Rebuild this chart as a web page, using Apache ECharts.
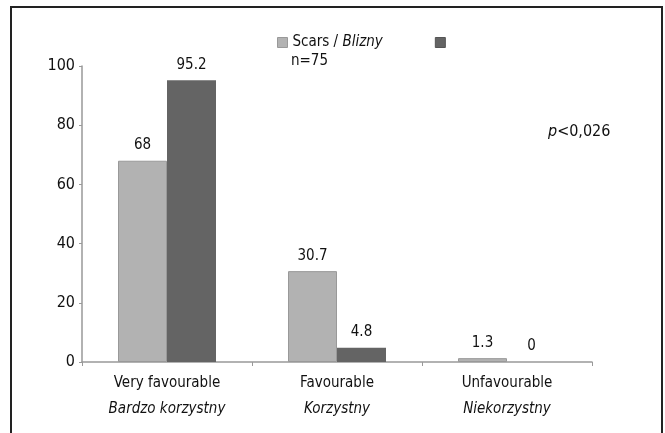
<!DOCTYPE html>
<html><head><meta charset="utf-8">
<script src="https://cdn.jsdelivr.net/npm/echarts@6/dist/echarts.min.js"></script>
<style>html,body{margin:0;padding:0;background:#fff}#c{width:665px;height:433px}</style>
</head><body><div id="c"></div>
<script>
const categoriesEn = ['Very favourable', 'Favourable', 'Unfavourable'];
const categoriesPl = ['Bardzo korzystny', 'Korzystny', 'Niekorzystny'];
const scarsValues = [68, 30.7, 1.3];
const secondValues = [95.2, 4.8, 0];
const yTicks = [0, 20, 40, 60, 80, 100];

const FONT = '"Liberation Sans Narrow", "DejaVu Sans Condensed", sans-serif';
const chart = echarts.init(document.getElementById('c'));
const cats = categoriesEn.map((e, i) => e + '\n' + categoriesPl[i]);

chart.setOption({
  animation: false,
  textStyle: { fontFamily: FONT, color: '#111' },
  grid: { left: 82, right: 73, top: 66, bottom: 71 },
  legend: {
    top: 30, left: 272, itemWidth: 10, itemHeight: 10, itemGap: 52, icon: 'rect',
    textStyle: { fontFamily: FONT, fontSize: 15, color: '#111',
      rich: { i: { fontFamily: FONT, fontStyle: 'italic', fontSize: 15, color: '#111' } } },
    formatter: function (n) { return n === 'Scars' ? 'Scars / {i|Blizny}' : ''; },
    data: [{ name: 'Scars', itemStyle: { color: '#b2b2b2', borderColor: '#999', borderWidth: 1 } },
           { name: ' ', itemStyle: { color: '#646464', borderColor: '#555', borderWidth: 1 } }]
  },
  graphic: [
    { type: 'rect', shape: { x: 11, y: 7, width: 651, height: 450 }, style: { fill: 'none', stroke: '#222', lineWidth: 2 }, silent: true },
    { type: 'text', left: 291, top: 54, style: { text: 'n=75', font: '15px ' + FONT, fill: '#111' } },
    { type: 'text', left: 548, top: 124, style: { text: '{i|p}<0,026', font: '16px ' + FONT, fill: '#111',
        rich: { i: { fontStyle: 'italic', fontFamily: FONT, fontSize: 16, fill: '#111' } } } }
  ],
  xAxis: {
    type: 'category', data: cats,
    axisLine: { lineStyle: { color: '#999', width: 1.5 } },
    axisTick: { show: true, length: 4, lineStyle: { color: '#999' } },
    axisLabel: { interval: 0, fontFamily: FONT, fontSize: 15, color: '#111', lineHeight: 26, margin: 8,
      formatter: function (v) { const p = v.split('\n'); return p[0] + '\n{i|' + p[1] + '}'; },
      rich: { i: { fontFamily: FONT, fontStyle: 'italic', fontSize: 15, color: '#111', lineHeight: 26 } } }
  },
  yAxis: {
    type: 'value', min: 0, max: 100, interval: 20,
    splitLine: { show: false },
    axisLine: { show: true, lineStyle: { color: '#999', width: 1.5 } },
    axisTick: { show: true, length: 3, lineStyle: { color: '#999' } },
    axisLabel: { fontFamily: FONT, fontSize: 16, color: '#111', margin: 7,
      formatter: function (v) { return yTicks.indexOf(v) >= 0 ? String(v) : ''; } }
  },
  series: [
    { name: 'Scars', type: 'bar', data: scarsValues, barWidth: 49, barGap: '0%',
      itemStyle: { color: '#b2b2b2', borderColor: '#999', borderWidth: 1 },
      label: { show: true, position: 'top', distance: 8, fontFamily: FONT, fontSize: 15, color: '#111' } },
    { name: ' ', type: 'bar', data: secondValues, barWidth: 49,
      itemStyle: { color: '#646464' },
      label: { show: true, position: 'top', distance: 8, fontFamily: FONT, fontSize: 15, color: '#111' } }
  ]
});
</script></body></html>
